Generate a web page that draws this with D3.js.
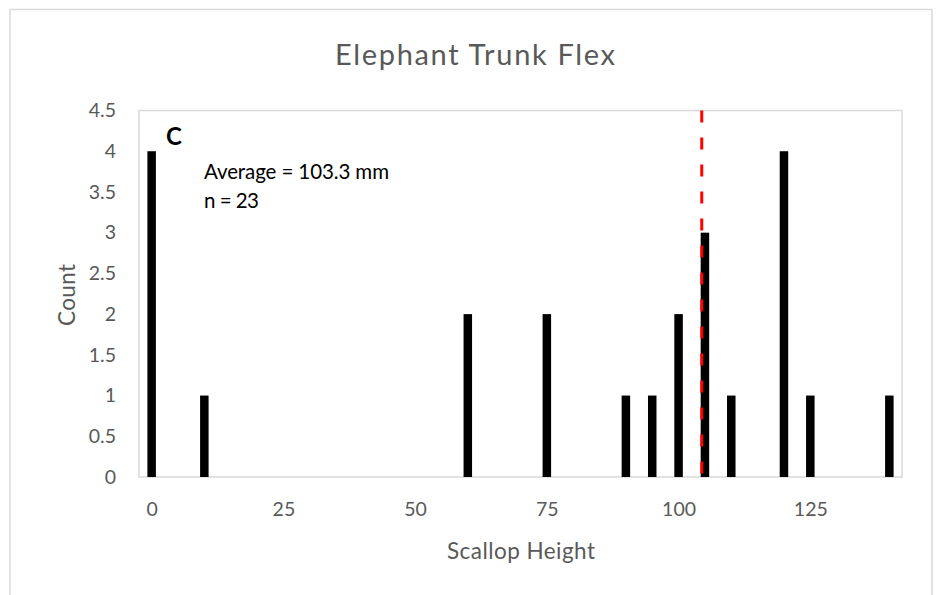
<!DOCTYPE html>
<html>
<head>
<meta charset="utf-8">
<script src="https://cdn.jsdelivr.net/npm/d3@7"></script>
<style>
  body { margin: 0; background: #fff; }
  text { font-family: Lato, "Open Sans", sans-serif; }
</style>
</head>
<body>
<div id="chart"></div>
<script>
// data
const heights = [0, 10, 60, 75, 90, 95, 100, 105, 110, 120, 125, 140];
const counts = [4, 1, 2, 2, 1, 1, 2, 3, 1, 4, 1, 1];
const xTicks = [0, 25, 50, 75, 100, 125];
const yTicks = [0, 0.5, 1, 1.5, 2, 2.5, 3, 3.5, 4, 4.5];
const averageLine = 104.4;
const notes = ['Average = 103.3 mm', 'n = 23'];

const W = 936, H = 595;
const margin = { top: 110.5, right: 34, bottom: 118, left: 139 };
const width = W - margin.left - margin.right;
const height = H - margin.top - margin.bottom;

const svg = d3.select('#chart').append('svg')
    .attr('width', W)
    .attr('height', H);

// outer chart frame
svg.append('path')
    .attr('d', 'M10,' + H + 'V9.5H932V' + H)
    .attr('fill', 'none')
    .attr('stroke', '#d9d9d9')
    .attr('stroke-width', 1.5);

const g = svg.append('g')
    .attr('transform', 'translate(' + margin.left + ',' + margin.top + ')');

const x = d3.scaleLinear().domain([-2.4, 142.4]).range([0, width]);
const y = d3.scaleLinear().domain([0, 4.5]).range([height, 0]);

// plot area border
g.append('rect')
    .attr('width', width)
    .attr('height', height)
    .attr('fill', 'none')
    .attr('stroke', '#d9d9d9')
    .attr('stroke-width', 1.5);

const xAxis = d3.axisBottom(x).tickValues(xTicks).tickSize(0).tickPadding(25);
const yAxis = d3.axisLeft(y).tickValues(yTicks).tickSize(0).tickPadding(23)
    .tickFormat(d => String(d));

g.append('g')
    .attr('transform', 'translate(0,' + height + ')')
    .call(xAxis)
    .call(a => a.select('.domain').remove());
g.append('g')
    .call(yAxis)
    .call(a => a.select('.domain').remove());

g.selectAll('.tick text')
    .attr('fill', '#595959')
    .style('font-size', '19.5px');

// bars
const barW = 8.5;
g.selectAll('rect.bar')
    .data(heights.map((h, i) => [h, counts[i]]))
    .enter()
    .append('rect')
    .attr('class', 'bar')
    .attr('x', d => x(d[0]) - barW / 2)
    .attr('y', d => y(d[1]))
    .attr('width', barW)
    .attr('height', d => height - y(d[1]))
    .attr('fill', '#000');

// average line
g.append('line')
    .attr('x1', x(averageLine))
    .attr('x2', x(averageLine))
    .attr('y1', 0)
    .attr('y2', height)
    .attr('stroke', '#ff0000')
    .attr('stroke-width', 3)
    .attr('stroke-dasharray', '12,15');

// title and axis labels
svg.append('text')
    .attr('x', 475)
    .attr('y', 65)
    .attr('text-anchor', 'middle')
    .attr('textLength', 280)
    .attr('fill', '#595959')
    .style('font-size', '29px')
    .text('Elephant Trunk Flex');

svg.append('text')
    .attr('x', 521)
    .attr('y', 559)
    .attr('text-anchor', 'middle')
    .attr('textLength', 148)
    .attr('fill', '#595959')
    .style('font-size', '22.5px')
    .text('Scallop Height');

svg.append('text')
    .attr('transform', 'translate(75,295) rotate(-90)')
    .attr('text-anchor', 'middle')
    .attr('textLength', 62)
    .attr('fill', '#595959')
    .style('font-size', '22.5px')
    .text('Count');

// annotations
svg.append('text')
    .attr('x', 166)
    .attr('y', 145)
    .attr('fill', '#000')
    .style('font-size', '24px')
    .style('font-weight', 'bold')
    .text('C');

svg.selectAll('text.note')
    .data(notes)
    .enter()
    .append('text')
    .attr('class', 'note')
    .attr('x', 204)
    .attr('y', (d, i) => 179 + i * 29)
    .attr('textLength', (d, i) => i === 0 ? 185 : 55)
    .attr('fill', '#000')
    .style('font-size', '20.5px')
    .text(d => d);
</script>
</body>
</html>
